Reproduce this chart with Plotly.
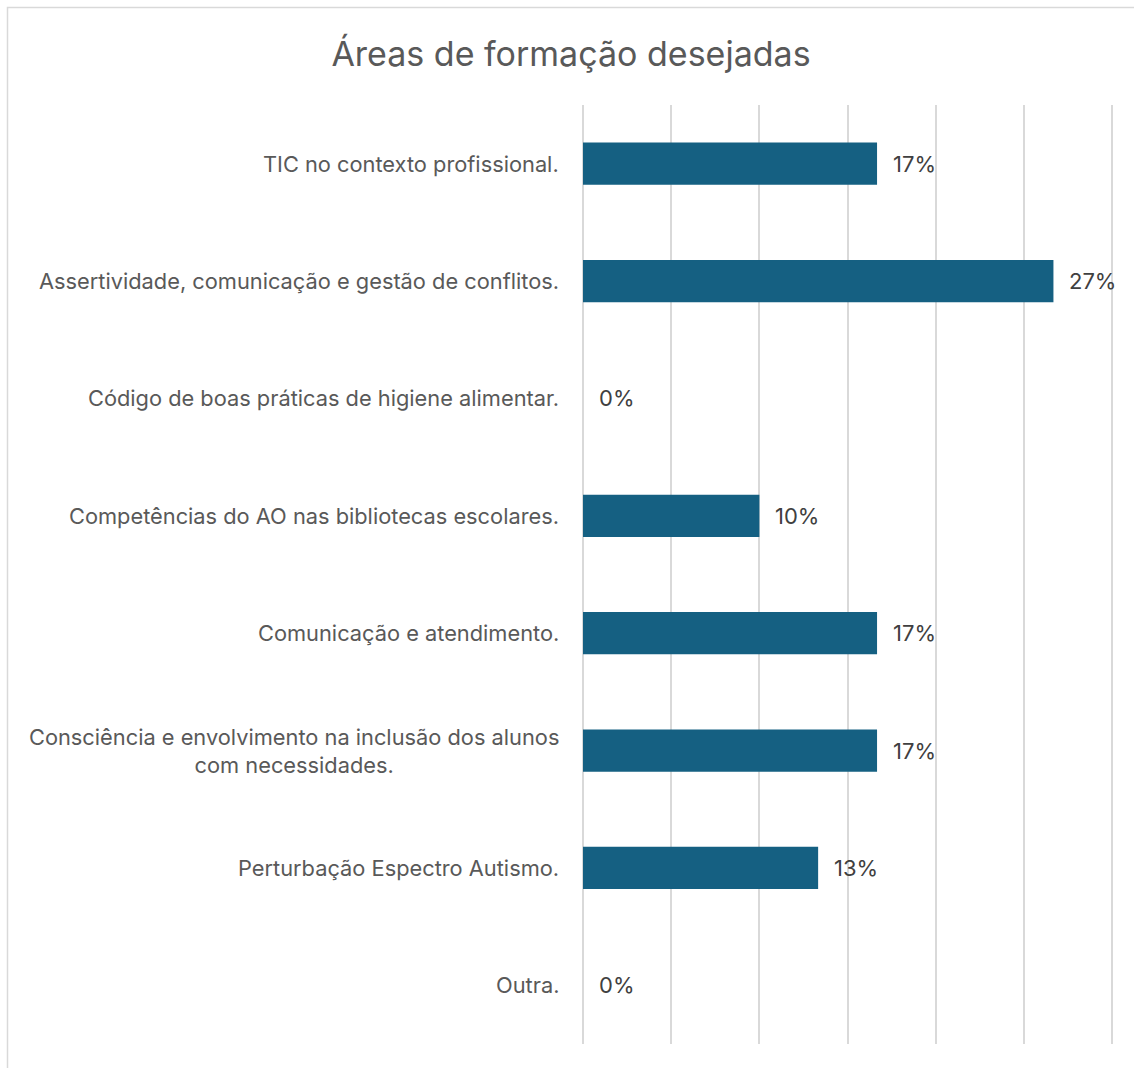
import plotly.graph_objects as go

# Survey results: desired training areas (share of respondents)
categories = [
    "TIC no contexto profissional.",
    "Assertividade, comunicação e gestão de conflitos.",
    "Código de boas práticas de higiene alimentar.",
    "Competências do AO nas bibliotecas escolares.",
    "Comunicação e atendimento.",
    "Consciência e envolvimento na inclusão dos alunos<br>com necessidades.",
    "Perturbação Espectro Autismo.",
    "Outra.",
]
shares = [0.1667, 0.2667, 0.0, 0.10, 0.1667, 0.1667, 0.1333, 0.0]

title_text = "Áreas de formação desejadas"
bar_color = "#156082"
grid_color = "#d9d9d9"
text_color = "#595959"
font_family = "Inter, 'Open Sans', sans-serif"

W, H = 1134, 1068
X_MAX = 0.305            # small headroom so the 30% gridline is drawn
M_L, M_T, M_B = 583, 105, 24
px_per_unit = 529 / 0.30
plot_w = round(px_per_unit * X_MAX)
M_R = W - M_L - plot_w
plot_h = H - M_T - M_B

fig = go.Figure(
    go.Bar(
        x=shares,
        y=list(range(len(categories))),
        orientation="h",
        marker=dict(color=bar_color, line=dict(width=0)),
        width=0.36,
        hoverinfo="skip",
    )
)

annotations = []
for i, (cat, v) in enumerate(zip(categories, shares)):
    # category label, right-aligned against the value axis
    annotations.append(dict(
        x=0, xref="paper", y=i, yref="y", text=cat, showarrow=False,
        xanchor="right", yanchor="middle", xshift=-22, align="center",
        font=dict(family=font_family, size=21.8, color=text_color),
    ))
    # value label just past the end of each bar
    annotations.append(dict(
        x=v, xref="x", y=i, yref="y", text=f"{v:.0%}", showarrow=False,
        xanchor="left", yanchor="middle", xshift=14,
        font=dict(family=font_family, size=22, color="#404040"),
    ))

# outer chart frame
frame = dict(
    type="rect", xref="paper", yref="paper",
    x0=(7.5 - M_L) / plot_w, x1=(W + 10 - M_L) / plot_w,
    y0=-(M_B + 10) / plot_h, y1=1 + (M_T - 7.5) / plot_h,
    line=dict(color=grid_color, width=1.5), fillcolor="rgba(0,0,0,0)",
    layer="below",
)

fig.update_layout(
    width=W, height=H,
    margin=dict(l=M_L, r=M_R, t=M_T, b=M_B, pad=0),
    paper_bgcolor="white", plot_bgcolor="white",
    title=dict(
        text=title_text, x=571 / W, xanchor="center", y=1 - 54 / H, yanchor="middle",
        font=dict(family=font_family, size=34, color=text_color),
    ),
    xaxis=dict(
        range=[0, X_MAX], dtick=0.05, tick0=0, showticklabels=False,
        showgrid=True, gridcolor=grid_color, gridwidth=1.5,
        zeroline=True, zerolinecolor=grid_color, zerolinewidth=1.5,
        showline=False, ticks="", fixedrange=True,
    ),
    yaxis=dict(
        range=[len(categories) - 0.5, -0.5], showticklabels=False,
        showgrid=False, zeroline=False, showline=False, ticks="",
    ),
    annotations=annotations,
    shapes=[frame],
    showlegend=False,
)

fig.write_html("out.html")
